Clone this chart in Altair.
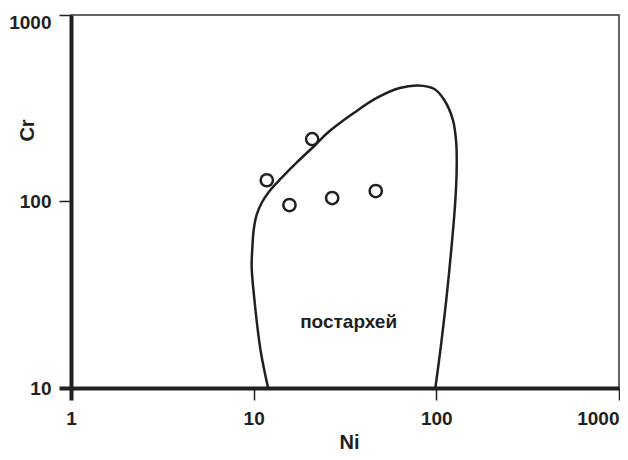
import altair as alt
import pandas as pd

# Boundary curve of the "постархей" field (Ni, Cr), traced around the outline
curve_ni = [12.0, 10.9, 10.1, 9.75, 9.82, 10.0, 10.38, 11.05, 12.22, 14.20, 17.34, 21.73,
            25.3, 35.3, 47.2, 63.0, 79.5, 97.5, 110.5, 123.3, 128.5, 129.2, 126.8,
            120.7, 113.3, 106.4, 98.8]
curve_cr = [10, 16.0, 29.6, 44.6, 55.0, 70.3, 84.8, 98.2, 113.8, 133.7, 162.9, 200.9,
            233, 298, 359, 406, 419, 401, 350, 273, 206, 147, 98.2,
            55.0, 29.6, 17.4, 10]

# Sample points
sample_ni = [20.9, 11.8, 15.7, 26.9, 46.6]
sample_cr = [216, 130, 95.7, 104.4, 113.8]

# Field label
label_text = ["постархей"]
label_ni = [33.1]
label_cr = [22.6]

x_ticks = [1, 10, 100, 1000]
y_ticks = [10, 100, 1000]

FONT = "Liberation Sans, Arial, sans-serif"
INK = "#231f20"

curve_df = pd.DataFrame({"ni": curve_ni, "cr": curve_cr, "i": list(range(len(curve_ni)))})
pts_df = pd.DataFrame({"ni": sample_ni, "cr": sample_cr})
lab_df = pd.DataFrame({"ni": label_ni, "cr": label_cr, "t": label_text})

xscale = alt.Scale(type="log", domain=[1, 1000], nice=False)
yscale = alt.Scale(type="log", domain=[10, 1000], nice=False)

xaxis = alt.Axis(
    values=x_ticks, format="d", grid=False,
    labelFont=FONT, labelFontSize=19, labelFontWeight="bold", labelColor=INK,
    labelPadding=9, labelAlign={"expr": "datum.value == 1000 ? 'right' : 'center'"},
    tickSize=12, tickColor=INK, tickWidth={"expr": "datum.value == 1 ? 4 : 1.5"},
    domainColor=INK, domainWidth=4,
    title="Ni", titleFont=FONT, titleFontSize=20, titleFontWeight="bold", titleColor=INK,
    titleX=278, titleY=60, titleAlign="center", titleBaseline="alphabetic",
)
yaxis = alt.Axis(
    values=y_ticks, format="d", grid=False,
    labelFont=FONT, labelFontSize=19, labelFontWeight="bold", labelColor=INK,
    labelPadding=8, labelOffset={"expr": "datum.value == 1000 ? 7 : 0"},
    tickSize=12, tickColor=INK, tickWidth={"expr": "datum.value == 10 ? 4 : 1.5"},
    domainColor=INK, domainWidth=4,
    title="Cr", titleFont=FONT, titleFontSize=20, titleFontWeight="bold", titleColor=INK,
    titleAngle=270, titleX=-38, titleY=115, titleAlign="center", titleBaseline="alphabetic",
)

base_x = alt.X("ni:Q", scale=xscale, axis=xaxis)
base_y = alt.Y("cr:Q", scale=yscale, axis=yaxis)

curve = alt.Chart(curve_df).mark_line(
    interpolate="catmull-rom", color=INK, strokeWidth=2.5, clip=True
).encode(x=base_x, y=base_y, order="i:Q")

points = alt.Chart(pts_df).mark_point(
    shape="circle", filled=False, size=150, strokeWidth=2.5, color=INK, opacity=1
).encode(x=alt.X("ni:Q", scale=xscale), y=alt.Y("cr:Q", scale=yscale))

label = alt.Chart(lab_df).mark_text(
    font=FONT, fontSize=19, fontWeight="bold", color=INK, align="center", baseline="middle"
).encode(x=alt.X("ni:Q", scale=xscale), y=alt.Y("cr:Q", scale=yscale), text="t:N")

chart = alt.layer(curve, points, label).properties(
    width=548, height=373,
    autosize=alt.AutoSizeParams(type="none"),
    padding={"left": 63, "top": 7, "right": 1, "bottom": 63},
    background="white",
).configure_view(stroke="#333333", strokeWidth=1.5)

chart.save("out.html", embed_options={"renderer": "svg", "actions": False})
